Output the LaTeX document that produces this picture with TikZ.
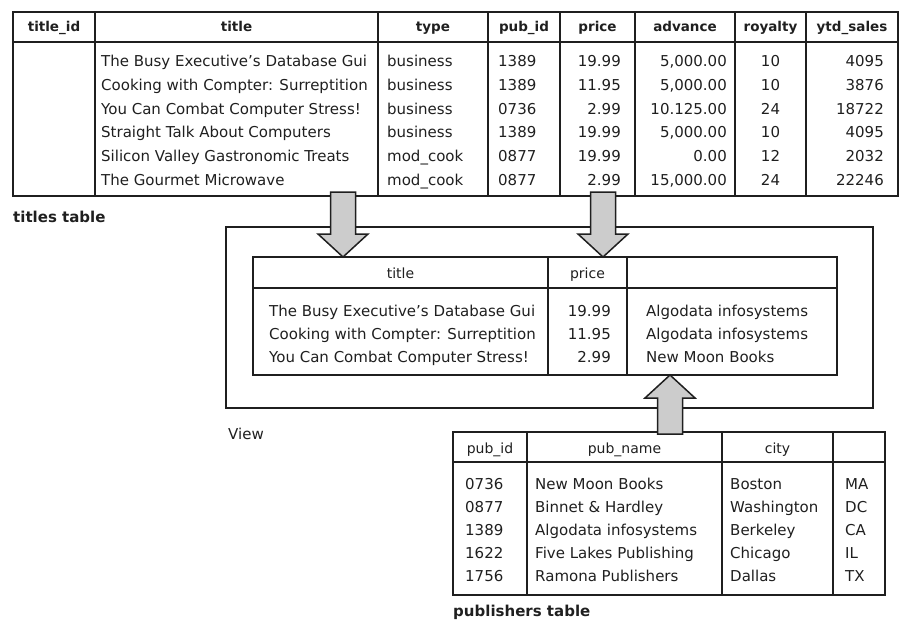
\documentclass[tikz,border=0pt]{standalone}
\usepackage{fontspec}
\setmainfont{DejaVu Sans}
\usetikzlibrary{calc}
\definecolor{arrowgray}{gray}{0.80}
\definecolor{ink}{gray}{0.12}

% fat block arrow from a tail point to a tip point (vertical)
\newcommand\fatarrow[2]{%
  \draw[blockarrow] let \p1=(#1), \p2=(#2), \n1={ifthenelse(\y1>\y2,23,-23)} in
    (\x1-12.5pt,\y1) -- (\x1-12.5pt,\y2+\n1) -- (\x1-25pt,\y2+\n1) -- (\x2,\y2)
    -- (\x1+25pt,\y2+\n1) -- (\x1+12.5pt,\y2+\n1) -- (\x1+12.5pt,\y1) -- cycle;}

\begin{document}
\begin{tikzpicture}[x=1pt,y=-1pt,
  frame/.style={draw=ink, line width=2.4pt, inner sep=0pt, outer sep=0pt, anchor=north west},
  headrule/.style={draw=ink, line width=2.4pt},
  colrule/.style={draw=ink, line width=1.8pt},
  hd/.style={font=\fontsize{13.5}{16}\selectfont\bfseries, inner sep=0pt, text=ink, text height=10pt, text depth=3pt},
  hdr/.style={font=\fontsize{14}{16}\selectfont, inner sep=0pt, text=ink, text height=10pt, text depth=3pt},
  cell/.style={font=\fontsize{15}{17}\selectfont, inner sep=0pt, text=ink, text height=11pt, text depth=3pt},
  L/.style={cell, anchor=west}, R/.style={cell, anchor=east}, C/.style={cell},
  caption/.style={font=\fontsize{15}{17}\selectfont\bfseries, anchor=west, inner sep=0pt, text=ink},
  plaincap/.style={font=\fontsize{15}{17}\selectfont, anchor=west, inner sep=0pt, text=ink},
  blockarrow/.style={draw=ink, line width=1.5pt, fill=arrowgray, line join=miter},
]
\useasboundingbox (0,0) rectangle (904,623);

% ---------------- titles table ----------------
\node[frame, minimum width=885pt, minimum height=184pt] (titles) at (13,12) {};
\draw[headrule] (13,42) -- (898,42);
\foreach \cx in {95,378,488,560,635,735,806}
  \draw[colrule] (\cx,12) -- (\cx,196);
\foreach \hx/\hname [count=\i] in {54/title\_id,236.5/title,433/type,524/pub\_id,597.5/price,685/advance,770.5/royalty,852/ytd\_sales}
  \node[hd] (th\i) at (\hx,28.5) {\hname};
\foreach \ti/\tty/\pid/\pr/\adv/\roy/\ytd [count=\i] in {
  The Busy Executive's Database Gui/business/1389/19.99/{5,000.00}/10/4095,
  Cooking with Compter: Surreptition/business/1389/11.95/{5,000.00}/10/3876,
  You Can Combat Computer Stress!/business/0736/2.99/{10.125.00}/24/18722,
  Straight Talk About Computers/business/1389/19.99/{5,000.00}/10/4095,
  Silicon Valley Gastronomic Treats/mod\_cook/0877/19.99/0.00/12/2032,
  The Gourmet Microwave/mod\_cook/0877/2.99/{15,000.00}/24/22246}
{
  \pgfmathsetmacro\ry{63+(\i-1)*23.6}
  \node[L] (tt\i) at (101,\ry) {\ti};
  \node[L] (ty\i) at (387,\ry) {\tty};
  \node[L] (tp\i) at (498,\ry) {\pid};
  \node[R] (tr\i) at (621,\ry) {\pr};
  \node[R] (ta\i) at (727,\ry) {\adv};
  \node[C] (to\i) at (770.5,\ry) {\roy};
  \node[R] (ts\i) at (884,\ry) {\ytd};
}
\node[caption] (titlescap) at (13,217) {titles table};

% ---------------- view ----------------
\node[frame, line width=2pt, minimum width=647pt, minimum height=181pt] (view) at (226,227) {};
\node[plaincap] (viewcap) at (228,434) {View};
\node[frame, minimum width=584pt, minimum height=118pt] (vtab) at (253,257) {};
\draw[headrule] (253,288) -- (837,288);
\foreach \cx in {548,627}
  \draw[colrule] (\cx,257) -- (\cx,375);
\node[hdr] (vh1) at (400.5,275) {title};
\node[hdr] (vh2) at (587.5,275) {price};
\foreach \ti/\pr/\pn [count=\i] in {
  The Busy Executive's Database Gui/19.99/Algodata infosystems,
  Cooking with Compter: Surreptition/11.95/Algodata infosystems,
  You Can Combat Computer Stress!/2.99/New Moon Books}
{
  \pgfmathsetmacro\ry{312+(\i-1)*23}
  \node[L] (vt\i) at (269,\ry) {\ti};
  \node[R] (vp\i) at (611,\ry) {\pr};
  \node[L] (vn\i) at (646,\ry) {\pn};
}

% ---------------- publishers table ----------------
\node[frame, minimum width=432pt, minimum height=163pt] (pubs) at (453,432) {};
\draw[headrule] (453,462) -- (885,462);
\foreach \cx in {527,722,833}
  \draw[colrule] (\cx,432) -- (\cx,595);
\node[hdr] (ph1) at (490,449.5) {pub\_id};
\node[hdr] (ph2) at (624.5,449.5) {pub\_name};
\node[hdr] (ph3) at (777.5,449.5) {city};
\foreach \pid/\pn/\city/\st [count=\i] in {
  0736/New Moon Books/Boston/MA,
  0877/Binnet \& Hardley/Washington/DC,
  1389/Algodata infosystems/Berkeley/CA,
  1622/Five Lakes Publishing/Chicago/IL,
  1756/Ramona Publishers/Dallas/TX}
{
  \pgfmathsetmacro\ry{485+(\i-1)*23.1}
  \node[L] (pi\i) at (465,\ry) {\pid};
  \node[L] (pn\i) at (535,\ry) {\pn};
  \node[L] (pc\i) at (730,\ry) {\city};
  \node[L] (ps\i) at (845,\ry) {\st};
}
\node[caption] (pubscap) at (453,612) {publishers table};

% ---------------- data-flow arrows ----------------
\coordinate (a1tail) at ($(titles.south west)+(330,-4)$);
\coordinate (a2tail) at ($(titles.south west)+(590,-4)$);
\coordinate (a3tail) at ($(pubs.north west)+(217,2)$);
\fatarrow{a1tail}{a1tail |- vtab.north}
\fatarrow{a2tail}{a2tail |- vtab.north}
\fatarrow{a3tail}{a3tail |- vtab.south}
\end{tikzpicture}
\end{document}
